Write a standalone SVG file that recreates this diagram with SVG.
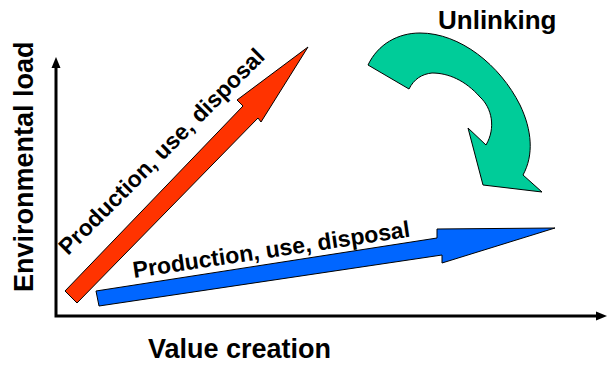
<svg xmlns="http://www.w3.org/2000/svg" width="607" height="365" viewBox="0 0 607 365">
<style>
text{font-family:"Liberation Sans",Arial,sans-serif;font-weight:bold;fill:#000}
.shape{stroke:#000;stroke-width:1;stroke-linejoin:miter}
.axis{stroke:#000;stroke-width:3;fill:none}
</style>
<rect width="607" height="365" fill="#fff"/>
<g id="axes">
<polyline class="axis" points="56,68 56,316 596,316"/>
<polygon points="56,57 51.5,68 60.5,68" fill="#000"/>
<polygon points="607,316 596,311.5 596,320.5" fill="#000"/>
</g>
<g id="red-arrow">
<polygon class="shape" fill="#FF3300" points="65,291 243,106 237,100 308,47 261,122 258,118 77,303"/>
</g>
<g id="blue-arrow">
<polygon class="shape" fill="#0066FF" points="96,291 437,238 437,229 555,228 442,263 442,255 99,306"/>
</g>
<g id="unlinking-arrow">
<path class="shape" fill="#00CC99" d="M368,65 C378,44 398,33 420,33 C460,33 500,65 520,105 C532,130 534,155 523,175 L542,192 L483,185 L468,128 L486,145 C496,128 492,108 480,97 C465,80 448,73 432,73 C422,74 414,79 409,89 Z"/>
</g>
<g id="labels">
<text x="438" y="29" font-size="26">Unlinking</text>
<text x="148" y="358" font-size="27">Value creation</text>
<text transform="translate(33,292) rotate(-90)" font-size="27">Environmental load</text>
<text transform="translate(68,256) rotate(-45)" font-size="23">Production, use, disposal</text>
<text transform="translate(134,278) rotate(-8.5)" font-size="23">Production, use, disposal</text>
</g>
</svg>
